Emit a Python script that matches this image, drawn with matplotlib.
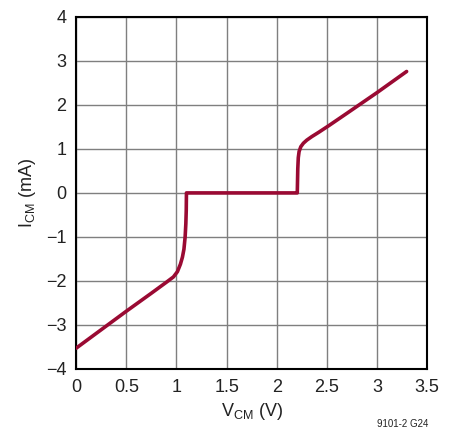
import matplotlib
matplotlib.use("Agg")
import matplotlib.pyplot as plt

# common mode input current vs common mode voltage
vcm = [0, 0.25, 0.5, 0.75, 0.90, 0.97, 1.01, 1.04, 1.06, 1.075, 1.087, 1.094, 1.098, 1.10,
       2.20, 2.205, 2.21, 2.215, 2.223, 2.24, 2.266, 2.30, 2.35, 2.42, 2.52, 2.70, 3.0, 3.295]
icm = [-3.53, -3.11, -2.69, -2.28, -2.03, -1.91, -1.79, -1.62, -1.46, -1.28, -1.0, -0.70, -0.40, 0.0,
       0.0, 0.0, 0.55, 0.80, 0.94, 1.05, 1.13, 1.20, 1.28, 1.38, 1.53, 1.81, 2.28, 2.76]

xticks = [0, 0.5, 1, 1.5, 2, 2.5, 3, 3.5]
xlabels = ["0", "0.5", "1", "1.5", "2", "2.5", "3", "3.5"]
yticks = [-4, -3, -2, -1, 0, 1, 2, 3, 4]
ylabels = ["\u22124", "\u22123", "\u22122", "\u22121", "0", "1", "2", "3", "4"]

plt.rcParams["font.family"] = ["Liberation Sans Narrow", "Liberation Sans", "DejaVu Sans"]

fig = plt.figure(figsize=(4.53, 4.34), dpi=100)
ax = fig.add_axes([0.168, 0.150, 0.775, 0.811])

ax.plot(vcm, icm, color="#9a0a33", lw=2.6, solid_joinstyle="round",
        solid_capstyle="round", zorder=3)

ax.set_xlim(0, 3.5)
ax.set_ylim(-4, 4)
ax.set_xticks(xticks)
ax.set_xticklabels(xlabels)
ax.set_yticks(yticks)
ax.set_yticklabels(ylabels)
ax.tick_params(length=0, labelsize=13, pad=7, colors="#222222")
ax.grid(True, color="#7f7f7f", lw=1.0)
for s in ax.spines.values():
    s.set_linewidth(1.5)
    s.set_color("black")

ax.set_xlabel(r"$\mathregular{V_{CM}}$ (V)", size=13, color="#222222", labelpad=4)
ax.set_ylabel(r"$\mathregular{I_{CM}}$ (mA)", size=13, color="#222222", labelpad=6)

fig.text(0.945, 0.012, "9101-2 G24", size=7, ha="right", va="bottom", color="#222222")

fig.savefig("out.png", dpi=100)
